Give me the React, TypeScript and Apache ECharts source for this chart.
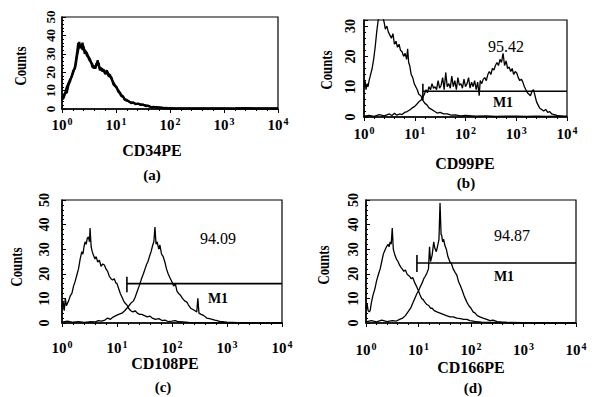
import React, { useEffect, useRef } from "react";
import * as echarts from "echarts";

// x values are log10 of fluorescence intensity (10^0 .. 10^4), y values are counts
const decadeExponents = ["0", "1", "2", "3", "4"];
const markerNames = ["CD34PE", "CD99PE", "CD108PE", "CD166PE"];
const panelLetters = ["(a)", "(b)", "(c)", "(d)"];
const yMaxes = [50, 32, 50, 50];
const countTicks = [0, 10, 20, 30, 40, 50];
const percents = ["", "95.42", "94.09", "94.87"];

const cd34Control: number[][] = [[0,6],[0.03,7.5],[0.06,9],[0.09,12],[0.12,14],[0.15,16],[0.18,17.5],[0.21,20],[0.24,23],[0.26,27],[0.28,31],[0.3,36],[0.32,33],[0.34,35],[0.36,34],[0.38,36],[0.4,33],[0.42,32],[0.44,31],[0.46,30.5],[0.48,29],[0.5,28],[0.52,27],[0.54,25],[0.56,24.5],[0.58,23],[0.6,22],[0.62,23.5],[0.64,24],[0.66,26.5],[0.68,24],[0.7,22],[0.72,21.5],[0.74,22],[0.77,20.5],[0.8,20],[0.83,21],[0.86,19],[0.89,18.5],[0.92,16],[0.95,14.5],[0.98,13],[1.01,11.5],[1.04,10.3],[1.07,9],[1.1,7.6],[1.13,6.5],[1.16,5.5],[1.2,4.9],[1.24,4],[1.28,3.5],[1.32,3.3],[1.36,3],[1.41,2.7],[1.46,2.5],[1.5,2.2],[1.55,2],[1.6,1.5],[1.65,1.1],[1.7,1.2],[1.75,0.8],[1.8,0.9],[1.86,0.5],[1.92,0.6],[2.0,0.3],[2.1,0.4],[2.2,0.2],[2.4,0.3],[2.6,0.2],[2.8,0.4],[3.0,0.2],[3.2,0.3],[3.4,0.5],[3.6,0.2],[3.8,0.3],[4.0,0.2]];
const cd34Sample: number[][] = [[0,5],[0.03,6],[0.06,8.5],[0.09,9],[0.12,13],[0.15,15],[0.18,18],[0.21,21],[0.24,22],[0.26,25],[0.28,29],[0.3,32],[0.32,36.5],[0.34,33],[0.36,35],[0.38,32],[0.4,34],[0.42,30],[0.44,31.5],[0.46,29],[0.48,28.5],[0.5,27],[0.52,26],[0.54,25.5],[0.56,23],[0.58,22.5],[0.6,23],[0.62,22],[0.64,25],[0.66,23.5],[0.68,25],[0.7,21],[0.72,22.5],[0.74,20.5],[0.77,21.5],[0.8,19],[0.83,20],[0.86,18],[0.89,17.5],[0.92,17],[0.95,13.5],[0.98,12.5],[1.01,12],[1.04,9.5],[1.07,8.5],[1.1,7],[1.13,7],[1.16,5],[1.2,4.5],[1.24,4.2],[1.28,3.2],[1.32,3.6],[1.36,2.6],[1.41,3],[1.46,2.2],[1.5,2.4],[1.55,1.6],[1.6,1.8],[1.65,1],[1.7,0.9],[1.75,1],[1.8,0.6],[1.86,0.7],[1.92,0.4],[2.0,0.5],[2.1,0.2],[2.2,0.4],[2.4,0.2],[2.6,0.3],[2.8,0.2],[3.0,0.4],[3.2,0.2],[3.4,0.3],[3.6,0.4],[3.8,0.2],[4.0,0.3]];

const cd99Control: number[][] = [[0,10],[0.02,12],[0.04,9],[0.06,11],[0.08,10],[0.1,12],[0.13,14],[0.16,16],[0.19,19],[0.22,23],[0.25,28],[0.28,32],[0.31,33],[0.34,33],[0.37,33],[0.4,31],[0.42,29],[0.45,30],[0.48,28],[0.51,27],[0.54,26],[0.57,27.5],[0.6,24],[0.63,25],[0.66,23],[0.69,24],[0.72,22],[0.75,21.5],[0.78,20],[0.81,21],[0.84,19],[0.86,22.5],[0.88,18],[0.9,17],[0.93,14],[0.96,13],[0.99,11],[1.02,10],[1.05,9],[1.08,7.5],[1.12,7],[1.16,5.5],[1.2,4.5],[1.24,4],[1.28,3],[1.33,2.5],[1.38,2],[1.44,1.3],[1.5,1.5],[1.57,1],[1.64,1],[1.72,0.6],[1.8,0.7],[1.9,0.4],[2.0,0.5],[2.2,0.3],[2.4,0.4],[2.6,0.2],[2.8,0.3],[3.0,0.3],[3.2,0.2],[3.4,0.3],[3.6,0.2],[3.8,0.3],[4.0,0.2]];
const cd99Sample: number[][] = [[0,0.3],[0.1,0.5],[0.2,0.2],[0.3,0.8],[0.4,0.4],[0.5,1],[0.55,0.5],[0.6,1.2],[0.65,0.6],[0.7,1],[0.75,0.8],[0.8,1.5],[0.85,1.8],[0.9,2.3],[0.95,3],[1.0,3.5],[1.04,4.2],[1.08,5],[1.12,5.5],[1.16,6.5],[1.19,7.5],[1.22,9],[1.25,8],[1.28,10],[1.31,9],[1.34,11],[1.37,9.5],[1.4,10],[1.43,9],[1.46,12],[1.49,9.5],[1.52,10.5],[1.55,13],[1.58,9],[1.61,14.7],[1.64,10],[1.67,11],[1.7,9.5],[1.73,13.5],[1.76,10],[1.79,12],[1.82,9],[1.85,13],[1.88,10.5],[1.91,11],[1.94,9.5],[1.97,12.5],[2.0,10],[2.03,11],[2.06,13],[2.09,9.5],[2.12,11.5],[2.15,10],[2.18,12],[2.21,9],[2.24,11.5],[2.27,7],[2.29,12],[2.32,11],[2.35,12.5],[2.38,13],[2.41,12],[2.44,14],[2.47,15],[2.5,14],[2.53,16],[2.56,15.5],[2.59,17],[2.62,18],[2.65,17],[2.68,19],[2.71,18],[2.74,21],[2.77,17],[2.8,18.5],[2.83,16],[2.86,16.5],[2.89,15],[2.92,16],[2.95,14],[2.98,15],[3.01,14.5],[3.04,13],[3.07,12],[3.1,12.5],[3.13,11.5],[3.16,10],[3.19,9],[3.22,8],[3.25,7.5],[3.28,7],[3.31,8.5],[3.34,9],[3.37,7],[3.4,5],[3.43,4],[3.46,3],[3.5,2.5],[3.54,2],[3.58,2.5],[3.62,1.5],[3.66,1.8],[3.7,1],[3.75,0.8],[3.8,0.5],[3.85,0.4],[3.9,0.3],[3.95,0.2],[4.0,0.3]];

const cd108Control: number[][] = [[0,6],[0.02,9],[0.04,5],[0.06,10],[0.08,7],[0.1,8],[0.12,9],[0.15,11],[0.18,12],[0.21,15],[0.24,17],[0.27,19.5],[0.3,22],[0.33,26],[0.36,29],[0.38,28],[0.4,31],[0.42,33],[0.44,32],[0.46,34.5],[0.48,35],[0.5,33],[0.51,38.6],[0.53,31],[0.55,29],[0.57,27.6],[0.6,26],[0.62,27],[0.65,24.8],[0.68,25.5],[0.71,23],[0.74,24],[0.77,23.6],[0.8,22],[0.83,21],[0.86,19],[0.89,18],[0.92,17.5],[0.95,18],[0.98,16.3],[1.0,16],[1.03,14],[1.06,12],[1.09,10.6],[1.12,9],[1.15,8],[1.18,7.3],[1.21,6],[1.25,5],[1.29,4.5],[1.33,5],[1.37,4],[1.41,3.5],[1.45,3.5],[1.5,3],[1.55,2.5],[1.6,2.8],[1.64,2],[1.7,1.5],[1.76,1.8],[1.82,1],[1.87,1.2],[1.93,0.6],[2.0,0.8],[2.06,1],[2.12,0.5],[2.2,0.4],[2.3,0.2],[2.5,0.1],[3.0,0],[3.5,0],[4.0,0]];
const cd108Sample: number[][] = [[0,0.4],[0.1,0.8],[0.2,0.3],[0.3,0.6],[0.4,0.2],[0.5,0.5],[0.6,0.4],[0.66,1],[0.72,0.8],[0.78,1.2],[0.83,2],[0.88,1.5],[0.93,2.4],[0.98,3],[1.03,3.5],[1.09,4],[1.14,5],[1.2,6.5],[1.25,8],[1.3,9],[1.33,10.5],[1.37,13],[1.41,15.5],[1.45,18.3],[1.48,20],[1.51,22],[1.54,24],[1.56,24.8],[1.59,27],[1.62,29],[1.65,31.7],[1.67,33],[1.69,39],[1.71,32],[1.73,33],[1.76,30],[1.78,31.7],[1.81,28],[1.84,27],[1.87,24.8],[1.9,22],[1.93,20],[1.96,18.5],[2.0,16.7],[2.03,15],[2.06,16],[2.09,13],[2.12,12],[2.15,11.4],[2.19,10],[2.23,9],[2.27,8.5],[2.3,7.3],[2.34,6],[2.38,5.5],[2.42,5],[2.45,4.5],[2.47,10],[2.49,4],[2.53,3.5],[2.58,3],[2.63,2],[2.68,1.8],[2.73,1.5],[2.78,1.2],[2.82,1],[2.88,0.6],[2.94,0.5],[3.0,0.3],[3.2,0.1],[3.5,0],[4.0,0]];

const cd166Control: number[][] = [[0,6],[0.02,8],[0.04,5],[0.06,4.5],[0.08,5],[0.1,8],[0.13,11],[0.17,14],[0.2,17],[0.24,20],[0.27,22],[0.3,25],[0.33,28],[0.36,29.6],[0.39,31],[0.42,32],[0.44,31],[0.46,33],[0.48,32],[0.5,38.6],[0.52,30],[0.55,27.6],[0.58,26],[0.61,25],[0.64,23.5],[0.67,22.5],[0.69,22],[0.72,21],[0.75,21.5],[0.78,20],[0.8,19.5],[0.83,19],[0.86,18],[0.89,18.5],[0.93,16.3],[0.96,15],[1.0,13],[1.03,11.4],[1.06,10],[1.09,9.5],[1.12,8.5],[1.16,7.5],[1.2,7],[1.23,6],[1.26,6],[1.3,5],[1.35,4.5],[1.41,4],[1.47,3.5],[1.53,3],[1.6,2.5],[1.66,2.5],[1.73,2],[1.8,1.8],[1.86,1.5],[1.92,1.5],[1.98,1],[2.04,0.8],[2.1,0.5],[2.2,0.3],[2.4,0.2],[2.6,0.1],[3.0,0],[4.0,0]];
const cd166Sample: number[][] = [[0,0.5],[0.1,1],[0.2,0.5],[0.3,1.2],[0.4,0.6],[0.5,1],[0.58,0.8],[0.64,1.5],[0.7,2],[0.75,3],[0.8,4.5],[0.85,6],[0.9,8.5],[0.94,10.5],[0.97,12],[1.0,13],[1.04,15],[1.07,16.3],[1.1,18],[1.13,19],[1.16,20.3],[1.19,22],[1.21,31],[1.23,25],[1.26,27.6],[1.29,33],[1.31,30.5],[1.34,29],[1.37,32],[1.39,34],[1.41,48.8],[1.43,36],[1.44,35.8],[1.46,33],[1.48,34],[1.5,31.7],[1.53,30],[1.56,27],[1.6,24.8],[1.63,24],[1.66,22],[1.7,20.5],[1.73,19.5],[1.76,17],[1.8,15],[1.83,13.4],[1.87,11],[1.9,9.5],[1.92,8.5],[1.96,7],[2.0,6],[2.04,4.5],[2.08,4],[2.12,3],[2.17,2.5],[2.23,2],[2.3,1.5],[2.36,1],[2.42,1.2],[2.5,0.6],[2.58,0.4],[2.7,0.2],[3.0,0.1],[3.5,0],[4.0,0]];

// M1 gates: [start (log10), level (counts), bar bottom, bar top]
const gateB = [1.16, 8.5, 5.5, 11];
const gateC = [1.18, 16, 12.5, 18.8];
const gateD = [0.97, 24.4, 20.7, 27.6];

const curves = [
  [cd34Control, cd34Sample],
  [cd99Control, cd99Sample],
  [cd108Control, cd108Sample],
  [cd166Control, cd166Sample],
];
const gates: (number[] | null)[] = [null, gateB, gateC, gateD];

const grids = [
  { left: 62, top: 17, width: 216, height: 92 },
  { left: 364, top: 20, width: 203, height: 97 },
  { left: 62, top: 200, width: 220, height: 123 },
  { left: 366, top: 200, width: 210, height: 123 },
];
const xLabelMargins = [7, 8, 16, 18];
const yLabelMargins = [6, 8, 12, 7];
const yLabelSizes = [13, 14, 14, 14];
const countsPos = [[20, 66], [326, 70], [16, 267], [323, 265]];
const namePos = [[152, 150], [465, 163], [165, 363], [471, 367]];
const letterPos = [[152, 175], [466, 183], [163, 387], [473, 388]];
const pctPos = [[0, 0], [506, 46], [218, 238], [512, 235]];
const m1Pos = [[0, 0], [503, 102], [218, 298], [504, 276]];

const SERIF = '"Liberation Serif", "DejaVu Serif", serif';

export default function App() {
  const ref = useRef<HTMLDivElement>(null);
  useEffect(() => {
    if (!ref.current) return;
    const chart = echarts.init(ref.current, undefined, { renderer: "svg" });
    const xAxis: any[] = [];
    const yAxis: any[] = [];
    const series: any[] = [];
    const graphic: any[] = [];
    grids.forEach((g, i) => {
      xAxis.push({
        gridIndex: i, type: "value", min: 0, max: 4, interval: 1,
        axisLine: { lineStyle: { color: "#000", width: 1.5 } },
        axisTick: { inside: false, length: 4, lineStyle: { color: "#000" } },
        minorTick: { show: true, splitNumber: 5, length: 2, lineStyle: { color: "#000" } },
        splitLine: { show: false },
        axisLabel: {
          margin: xLabelMargins[i], color: "#000", interval: 0,
          formatter: (v: number) => "{b|10}{s|" + (decadeExponents[Math.round(v)] ?? "") + "}",
          rich: {
            b: { fontFamily: SERIF, fontSize: 15, fontWeight: "bold", color: "#000", verticalAlign: "bottom", lineHeight: 16 },
            s: { fontFamily: SERIF, fontSize: 10, fontWeight: "bold", color: "#000", verticalAlign: "top", lineHeight: 16, padding: [0, 0, 0, 1] },
          },
        },
      });
      const ticks = countTicks.filter((t) => t <= yMaxes[i]);
      yAxis.push({
        gridIndex: i, type: "value", min: 0, max: yMaxes[i], interval: 10,
        axisLine: { show: true, lineStyle: { color: "#000", width: 1.5 } },
        axisTick: { show: true, inside: true, length: 4, lineStyle: { color: "#000" } },
        minorTick: { show: true, splitNumber: 5, length: 2, lineStyle: { color: "#000" } },
        splitLine: { show: false },
        axisLabel: {
          customValues: ticks, rotate: 90, hideOverlap: false, margin: yLabelMargins[i], color: "#000",
          fontFamily: SERIF, fontSize: yLabelSizes[i], fontWeight: "bold", lineHeight: 12,
          showMinLabel: true, showMaxLabel: true,
        },
      });
      curves[i].forEach((c) => {
        series.push({
          type: "line", xAxisIndex: i, yAxisIndex: i, data: c, showSymbol: false,
          lineStyle: { color: "#000", width: i === 0 ? 2.2 : 1.3 }, clip: true, z: 3,
        });
      });
      const gt = gates[i];
      if (gt) {
        series.push({
          type: "line", xAxisIndex: i, yAxisIndex: i, data: [[gt[0], gt[1]], [4, gt[1]]],
          showSymbol: false, lineStyle: { color: "#000", width: 1.6 }, z: 4,
        });
        series.push({
          type: "line", xAxisIndex: i, yAxisIndex: i, data: [[gt[0], gt[2]], [gt[0], gt[3]]],
          showSymbol: false, lineStyle: { color: "#000", width: 1.6 }, z: 4,
        });
        graphic.push({
          type: "text", x: pctPos[i][0], y: pctPos[i][1],
          style: { text: percents[i], fontFamily: SERIF, fontSize: 16, fill: "#000", align: "center", verticalAlign: "middle" },
        });
        graphic.push({
          type: "text", x: m1Pos[i][0], y: m1Pos[i][1],
          style: { text: "M1", fontFamily: SERIF, fontSize: 14, fontWeight: "bold", fill: "#000", align: "center", verticalAlign: "middle" },
        });
      }
      graphic.push({
        type: "text", x: countsPos[i][0], y: countsPos[i][1], rotation: Math.PI / 2, scaleX: 0.75,
        style: { text: "Counts", fontFamily: SERIF, fontSize: 17, fontWeight: "bold", fill: "#000", align: "center", verticalAlign: "middle" },
      });
      graphic.push({
        type: "text", x: namePos[i][0], y: namePos[i][1],
        style: { text: markerNames[i], fontFamily: SERIF, fontSize: 16, fontWeight: "bold", fill: "#000", align: "center", verticalAlign: "middle" },
      });
      graphic.push({
        type: "text", x: letterPos[i][0], y: letterPos[i][1],
        style: { text: panelLetters[i], fontFamily: SERIF, fontSize: 15, fontWeight: "bold", fill: "#000", align: "center", verticalAlign: "middle" },
      });
    });
    chart.setOption({
      animation: false,
      backgroundColor: "#fff",
      grid: grids.map((g) => ({ ...g, show: true, borderColor: "#000", borderWidth: 1.2, backgroundColor: "transparent" })),
      xAxis, yAxis, series, graphic,
    });
    return () => chart.dispose();
  }, []);
  return <div ref={ref} style={{ position: "fixed", left: 0, top: 0, width: 598, height: 397 }} />;
}
